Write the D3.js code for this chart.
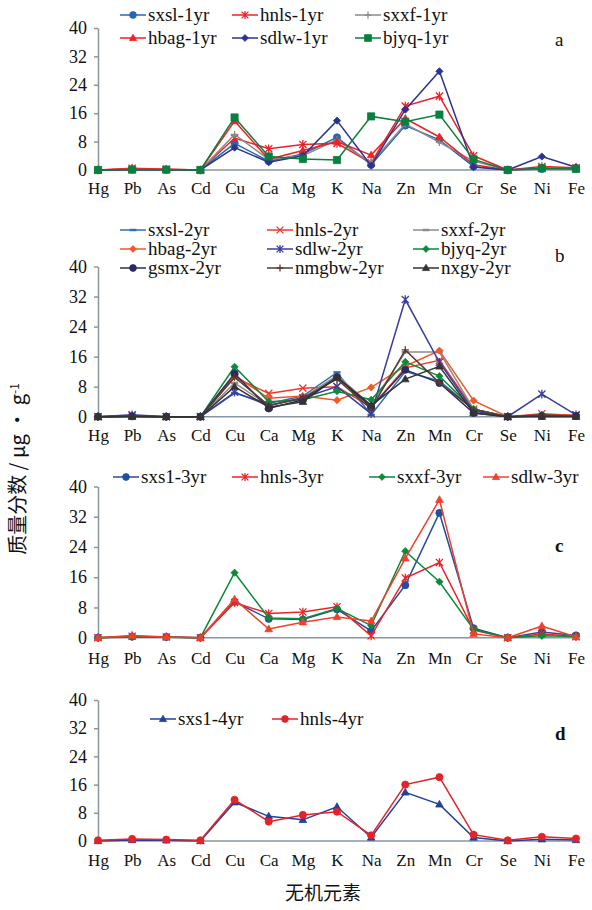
<!DOCTYPE html>
<meta charset="utf-8">
<style>
    body { margin: 0; background: #fff; }
    svg text { font-family: "Times New Roman", "Liberation Serif", "DejaVu Serif", serif; fill: #111; }
    .line { fill: none; stroke-width: 1.5px; }
    .axis path, .axis line { stroke: #8796a0; stroke-width: 1.5px; }
    .axis text { fill: #111; }
</style>
<svg width="592" height="910"></svg>
<script src="https://d3js.org/d3.v7.min.js"></script>
<script>

    var serif = "'Times New Roman', 'Liberation Serif', 'DejaVu Serif', serif";

    // categories and ticks
    var elements = ["Hg", "Pb", "As", "Cd", "Cu", "Ca", "Mg", "K", "Na", "Zn", "Mn", "Cr", "Se", "Ni", "Fe"];
    var yTicks = [0, 8, 16, 24, 32, 40];

    // panel a (1 yr)
    var sxsl1 = [0, 0.2, 0.1, 0, 7.5, 2.5, 4.5, 9.2, 1.5, 12.5, 8.5, 1, 0, 0.3, 0.5];
    var hnls1 = [0, 0.5, 0.2, 0, 9, 6, 7.2, 7.5, 2, 18, 20.8, 4, 0, 1, 0.6];
    var sxxf1 = [0, 0.2, 0.1, 0, 10, 3, 4, 8.5, 2, 13, 7.8, 2.5, 0, 0.5, 0.3];
    var hbag1 = [0, 0.3, 0.2, 0, 13.8, 3, 5.5, 8, 4.2, 14.5, 9.3, 1.5, 0, 0.5, 0.4];
    var sdlw1 = [0, 0.1, 0.1, 0, 6.3, 2.2, 4, 13.9, 1.2, 17, 27.8, 0.8, 0, 3.8, 0.8];
    var bjyq1 = [0, 0.1, 0.1, 0, 14.8, 3.8, 3.1, 2.8, 15.1, 13.6, 15.6, 3, 0, 0.5, 0.3];

    // panel b (2 yr)
    var sxsl2 = [0, 0.1, 0, 0, 6.3, 3.5, 5.5, 11.8, 0.5, 12, 9.5, 2, 0, 0.3, 0.3];
    var hnls2 = [0, 0.2, 0, 0, 10.5, 6.2, 7.6, 8, 2.5, 13, 15, 2, 0, 0.8, 0.3];
    var sxxf2 = [0, 0.1, 0, 0, 9, 3, 5, 11, 3, 17.2, 17.2, 2, 0, 0.3, 0.2];
    var hbag2 = [0, 0.1, 0, 0, 11, 4.9, 5.5, 4.4, 7.8, 13.5, 17.6, 4.3, 0, 0.5, 0.3];
    var sdlw2 = [0, 0.5, 0, 0, 6.5, 3, 5, 8, 0.8, 31.2, 14.5, 1.5, 0, 6, 0.5];
    var bjyq2 = [0, 0.1, 0, 0, 13.3, 4, 4.5, 6.8, 4.5, 14.6, 10.8, 2, 0, 0.2, 0.2];
    var gsmx2 = [0, 0.1, 0, 0, 11.5, 2.2, 4.5, 10.5, 2.5, 12.5, 9, 1, 0, 0.2, 0.2];
    var nmgbw2 = [0, 0.1, 0, 0, 10.5, 3, 5, 10, 2, 17.8, 9, 2, 0, 0.5, 0.2];
    var nxgy2 = [0, 0, 0, 0, 8, 2.5, 4, 10.5, 3, 10, 13.4, 1, 0, 0, 0];

    // panel c (3 yr)
    var sxs13 = [0, 0.3, 0.2, 0, 9.5, 5, 4.8, 7.5, 1.8, 13.9, 33, 2.5, 0, 1.5, 0.6];
    var hnls3 = [0, 0.4, 0.2, 0, 9.3, 6.4, 6.8, 8.2, 0.5, 15.8, 19.9, 2, 0, 1, 0.3];
    var sxxf3 = [0, 0.2, 0.1, 0, 17.2, 5.2, 5, 7.7, 3.2, 22.9, 14.8, 2.2, 0, 0.5, 0.3];
    var sdlw3 = [0, 0.6, 0.2, 0, 10.2, 2.3, 4.1, 5.5, 4.4, 21, 36.5, 1, 0, 3.1, 0.2];

    // panel d (4 yr)
    var sxs14 = [0, 0.3, 0.2, 0, 11, 7, 6, 9.7, 1, 13.8, 10.4, 1, 0, 0.5, 0.3];
    var hnls4 = [0.2, 0.6, 0.4, 0.2, 11.7, 5.5, 7.4, 8.3, 1.6, 16, 18.1, 1.8, 0.2, 1.2, 0.7];

    var svg = d3.select("svg");

    var x = d3.scalePoint().domain(elements).range([98, 576]);

    // marker path strings, centred at 0,0
    function markerPath(type, s) {
        if (type == "circle") return d3.symbol(d3.symbolCircle, Math.PI * s * s)();
        if (type == "triangle") return "M0," + (-s * 1.1) + "L" + (s * 1.05) + "," + (s * 0.75) + "L" + (-s * 1.05) + "," + (s * 0.75) + "Z";
        if (type == "diamond") return "M0," + (-s) + "L" + s + ",0L0," + s + "L" + (-s) + ",0Z";
        if (type == "square") return "M" + (-s) + "," + (-s) + "H" + s + "V" + s + "H" + (-s) + "Z";
        if (type == "plus") return "M" + (-s) + ",0H" + s + "M0," + (-s) + "V" + s;
        if (type == "x") return "M" + (-s) + "," + (-s) + "L" + s + "," + s + "M" + s + "," + (-s) + "L" + (-s) + "," + s;
        if (type == "asterisk") return "M" + (-s) + "," + (-s) + "L" + s + "," + s + "M" + s + "," + (-s) + "L" + (-s) + "," + s + "M0," + (-s * 1.2) + "V" + (s * 1.2);
        if (type == "dash") return "M" + (-s) + ",0H" + s;
        return "";
    }
    var filled = { circle: true, triangle: true, diamond: true, square: true };

    function drawMarker(g, type, color, cx, cy, s) {
        g.append("path")
            .attr("transform", "translate(" + cx + "," + cy + ")")
            .attr("d", markerPath(type, s))
            .attr("fill", filled[type] ? color : "none")
            .attr("stroke", color)
            .attr("stroke-width", filled[type] ? 0.8 : (type == "dash" ? 2.5 : 1.3));
    }

    var panels = [
        {
            y0: 170, y40: 28, xLabelY: 194, letter: "a", letterPos: [555, 46], bold: false,
            series: [
                { id: "sxsl-1yr", values: sxsl1, color: "#2468b0", marker: "circle", lx: 120, ly: 15 },
                { id: "hnls-1yr", values: hnls1, color: "#ec2227", marker: "asterisk", lx: 232, ly: 15 },
                { id: "sxxf-1yr", values: sxxf1, color: "#8a8a8a", marker: "plus", lx: 355, ly: 15 },
                { id: "hbag-1yr", values: hbag1, color: "#ec2227", marker: "triangle", lx: 120, ly: 38 },
                { id: "sdlw-1yr", values: sdlw1, color: "#2b3391", marker: "diamond", lx: 232, ly: 38 },
                { id: "bjyq-1yr", values: bjyq1, color: "#0a7f3f", marker: "square", lx: 355, ly: 38 }
            ]
        },
        {
            y0: 416.7, y40: 266.5, xLabelY: 441, letter: "b", letterPos: [555, 262], bold: false,
            series: [
                { id: "sxsl-2yr", values: sxsl2, color: "#2f70b5", marker: "dash", lx: 120, ly: 230 },
                { id: "hnls-2yr", values: hnls2, color: "#e8392f", marker: "x", lx: 267, ly: 230 },
                { id: "sxxf-2yr", values: sxxf2, color: "#8c8c8c", marker: "dash", lx: 413, ly: 230 },
                { id: "hbag-2yr", values: hbag2, color: "#f0582a", marker: "diamond", lx: 120, ly: 249 },
                { id: "sdlw-2yr", values: sdlw2, color: "#3b3d9e", marker: "asterisk", lx: 267, ly: 249 },
                { id: "bjyq-2yr", values: bjyq2, color: "#0b8a3c", marker: "diamond", lx: 413, ly: 249 },
                { id: "gsmx-2yr", values: gsmx2, color: "#2a2c5e", marker: "circle", lx: 120, ly: 268 },
                { id: "nmgbw-2yr", values: nmgbw2, color: "#5b3a30", marker: "plus", lx: 267, ly: 268 },
                { id: "nxgy-2yr", values: nxgy2, color: "#333333", marker: "triangle", lx: 413, ly: 268 }
            ]
        },
        {
            y0: 637.7, y40: 486.5, xLabelY: 664, letter: "c", letterPos: [555, 552], bold: true,
            series: [
                { id: "sxs1-3yr", values: sxs13, color: "#214f9f", marker: "circle", lx: 113, ly: 477 },
                { id: "hnls-3yr", values: hnls3, color: "#ec2227", marker: "asterisk", lx: 232, ly: 477 },
                { id: "sxxf-3yr", values: sxxf3, color: "#0b8a3c", marker: "diamond", lx: 369, ly: 477 },
                { id: "sdlw-3yr", values: sdlw3, color: "#f0402a", marker: "triangle", lx: 483, ly: 477 }
            ]
        },
        {
            y0: 841, y40: 700, xLabelY: 866, letter: "d", letterPos: [555, 740], bold: true,
            series: [
                { id: "sxs1-4yr", values: sxs14, color: "#22409c", marker: "triangle", lx: 150, ly: 719 },
                { id: "hnls-4yr", values: hnls4, color: "#e3232a", marker: "circle", lx: 272, ly: 719 }
            ]
        }
    ];

    panels.forEach(function (p) {
        var y = d3.scaleLinear().domain([0, 40]).range([p.y0, p.y40]);
        var g = svg.append("g");

        // x axis (baseline + category labels)
        g.append("g")
            .attr("class", "axis axis--x")
            .attr("transform", "translate(0," + p.y0 + ")")
            .call(d3.axisBottom(x).tickSize(0).tickPadding(0))
            .attr("font-family", serif)
            .attr("font-size", 17)
            .call(function (a) { a.select(".domain").attr("d", "M98,0H576"); })
            .selectAll("text")
            .attr("dy", null)
            .attr("y", p.xLabelY - p.y0);

        // y axis
        g.append("g")
            .attr("class", "axis axis--y")
            .attr("transform", "translate(98,0)")
            .call(d3.axisLeft(y).tickValues(yTicks).tickSize(4).tickSizeOuter(0).tickPadding(7))
            .attr("font-family", serif)
            .attr("font-size", 18);

        var line = d3.line()
            .x(function (d, i) { return x(elements[i]); })
            .y(function (d) { return y(d); });

        p.series.forEach(function (s) {
            var sg = g.append("g").attr("class", "series");
            sg.append("path")
                .attr("class", "line")
                .attr("d", line(s.values))
                .style("stroke", s.color);
            s.values.forEach(function (v, i) {
                drawMarker(sg, s.marker, s.color, x(elements[i]), y(v), 3.6);
            });

            // legend entry
            var lg = g.append("g").attr("class", "legend");
            lg.append("line")
                .attr("x1", s.lx).attr("x2", s.lx + 26)
                .attr("y1", s.ly).attr("y2", s.ly)
                .attr("stroke", s.color).attr("stroke-width", 1.5);
            drawMarker(lg, s.marker, s.color, s.lx + 13, s.ly, 3.4);
            lg.append("text")
                .attr("x", s.lx + 28)
                .attr("y", s.ly)
                .attr("dy", "0.33em")
                .style("font-family", serif)
                .style("font-size", "19px")
                .text(s.id);
        });

        svg.append("text")
            .attr("x", p.letterPos[0])
            .attr("y", p.letterPos[1])
            .style("font-family", serif)
            .style("font-size", "19px")
            .style("font-weight", p.bold ? "bold" : "normal")
            .text(p.letter);
    });

    // y axis title
    var yt = svg.append("text")
        .attr("transform", "translate(25,469) rotate(-90)")
        .attr("text-anchor", "middle")
        .style("font-family", "'Noto Sans CJK SC', sans-serif")
        .style("font-size", "20px");
    yt.append("tspan").text("质量分数 / μg · g");
    yt.append("tspan").attr("dy", "-0.5em").style("font-size", "12px").text("-1");

    // x axis title
    svg.append("text")
        .attr("x", 323)
        .attr("y", 900)
        .attr("text-anchor", "middle")
        .style("font-family", "'Noto Sans CJK SC', sans-serif")
        .style("font-size", "19px")
        .text("无机元素");

</script>
